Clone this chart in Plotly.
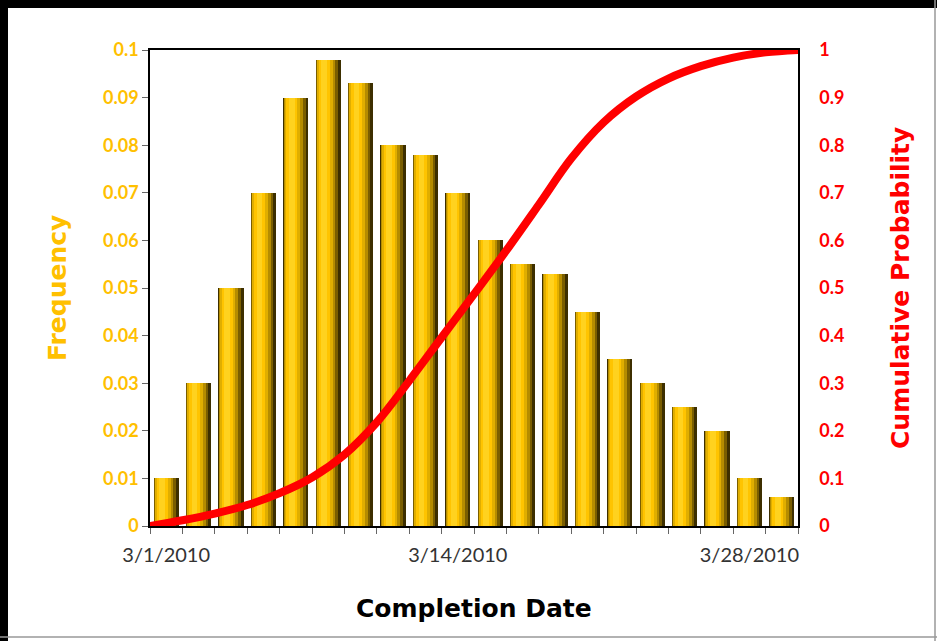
import numpy as np
import plotly.graph_objects as go

# ---------------- data ----------------
frequency = [0.010, 0.030, 0.050, 0.070, 0.090, 0.098, 0.093, 0.080, 0.078, 0.070,
             0.060, 0.055, 0.053, 0.045, 0.035, 0.030, 0.025, 0.020, 0.010, 0.006]
# cumulative probability read at the bin edges (21 edges for 20 bins)
cumulative = [0.000, 0.012, 0.026, 0.044, 0.069, 0.102, 0.150, 0.218, 0.305, 0.396,
              0.487, 0.579, 0.675, 0.772, 0.848, 0.902, 0.940, 0.966, 0.984, 0.995, 1.000]
date_tick_index = [0, 9, 18]
date_tick_labels = ["3/1/2010", "3/14/2010", "3/28/2010"]
freq_ticks = [0, 0.01, 0.02, 0.03, 0.04, 0.05, 0.06, 0.07, 0.08, 0.09, 0.1]
freq_tick_labels = ["0", "0.01", "0.02", "0.03", "0.04", "0.05", "0.06", "0.07", "0.08", "0.09", "0.1"]
prob_ticks = [0, 0.1, 0.2, 0.3, 0.4, 0.5, 0.6, 0.7, 0.8, 0.9, 1]
prob_tick_labels = ["0", "0.1", "0.2", "0.3", "0.4", "0.5", "0.6", "0.7", "0.8", "0.9", "1"]

bins = np.arange(len(frequency))
edges = np.arange(len(cumulative)) - 0.5

GOLD = "#FFC000"
RED = "#FF0000"
FONT = "Lato"
TFONT = "DejaVu Sans"

fig = go.Figure()

# cylinder-like shaded bars: layered overlay bars (offset, width, colour)
layers = [
    (-0.39, 0.78, "#3D2F00"),
    (-0.375, 0.68, "#7A5E00"),
    (-0.36, 0.58, "#B58C00"),
    (-0.345, 0.48, "#E0AE00"),
    (-0.29, 0.34, "#FFC400"),
    (-0.21, 0.17, "#FFD21F"),
]
for off, w, col in layers:
    fig.add_trace(go.Bar(
        x=bins, y=frequency, offset=off, width=w,
        marker=dict(color=col, line=dict(width=0)),
        showlegend=False, hoverinfo="skip", xaxis="x", yaxis="y"))

fig.add_trace(go.Scatter(
    x=edges, y=cumulative, mode="lines",
    line=dict(color=RED, width=8, shape="spline", smoothing=1.0),
    showlegend=False, xaxis="x", yaxis="y2", cliponaxis=False))

fig.update_layout(
    width=937, height=641,
    margin=dict(l=150, r=139, t=50, b=115, autoexpand=False),
    paper_bgcolor="white", plot_bgcolor="white",
    barmode="overlay", bargap=0,
    xaxis=dict(
        range=[-0.5, len(frequency) - 0.5], showgrid=False, zeroline=False,
        showline=True, linecolor="black", linewidth=1.5, mirror=True,
        tickmode="array", tickvals=date_tick_index, ticktext=date_tick_labels,
        ticks="", ticklabelstandoff=10,
        tickfont=dict(family=FONT, size=20, color="#333333"),
        minor=dict(ticks="outside", tickmode="linear", tick0=-0.5, dtick=1,
                   ticklen=6, tickcolor="#666666", tickwidth=1, showgrid=False),
    ),
    yaxis=dict(
        range=[0, 0.1], showgrid=False, zeroline=False,
        showline=True, linecolor="black", linewidth=1.5,
        tickmode="array", tickvals=freq_ticks, ticktext=freq_tick_labels,
        ticks="outside", ticklen=6, tickcolor="#666666",
        ticklabelstandoff=0,
        tickfont=dict(family=FONT, size=18, color=GOLD, weight="bold"),
    ),
    yaxis2=dict(
        range=[0, 1], overlaying="y", side="right", showgrid=False, zeroline=False,
        showline=True, linecolor="black", linewidth=1.5,
        tickmode="array", tickvals=prob_ticks, ticktext=prob_tick_labels,
        ticks="", ticklabelstandoff=16,
        tickfont=dict(family=FONT, size=18, color=RED, weight="bold"),
    ),
    annotations=[
        dict(text="Frequency", xref="paper", yref="paper", x=-93 / 648, y=0.5,
             showarrow=False, textangle=-90, xanchor="center", yanchor="middle",
             font=dict(family=TFONT, size=25, color=GOLD, weight="bold")),
        dict(text="Cumulative Probability", xref="paper", yref="paper", x=1 + 102 / 648, y=0.5,
             showarrow=False, textangle=-90, xanchor="center", yanchor="middle",
             font=dict(family=TFONT, size=25, color=RED, weight="bold")),
        dict(text="Completion Date", xref="paper", yref="paper", x=0.5, y=-82 / 476,
             showarrow=False, xanchor="center", yanchor="middle",
             font=dict(family=TFONT, size=25, color="black", weight="bold")),
    ],
    shapes=[
        # black frame (top and left) and thin grey frame (right and bottom)
        dict(type="rect", xref="paper", yref="paper", xsizemode="pixel", ysizemode="scaled",
             xanchor=0, x0=-150, x1=-142, y0=-2, y1=2, fillcolor="black", line=dict(width=0), layer="above"),
        dict(type="rect", xref="paper", yref="paper", xsizemode="scaled", ysizemode="pixel",
             yanchor=1, y0=50, y1=42, x0=-1, x1=2, fillcolor="black", line=dict(width=0), layer="above"),
        dict(type="line", xref="paper", yref="paper", xsizemode="pixel", ysizemode="scaled",
             xanchor=1, x0=137, x1=137, y0=-2, y1=2, line=dict(color="#999999", width=1.5)),
        dict(type="line", xref="paper", yref="paper", xsizemode="scaled", ysizemode="pixel",
             yanchor=0, y0=-111, y1=-111, x0=-1, x1=2, line=dict(color="#999999", width=1.5)),
    ],
)

fig.write_html("out.html", config={"displayModeBar": False},
               post_script="document.body.style.margin='0';")
